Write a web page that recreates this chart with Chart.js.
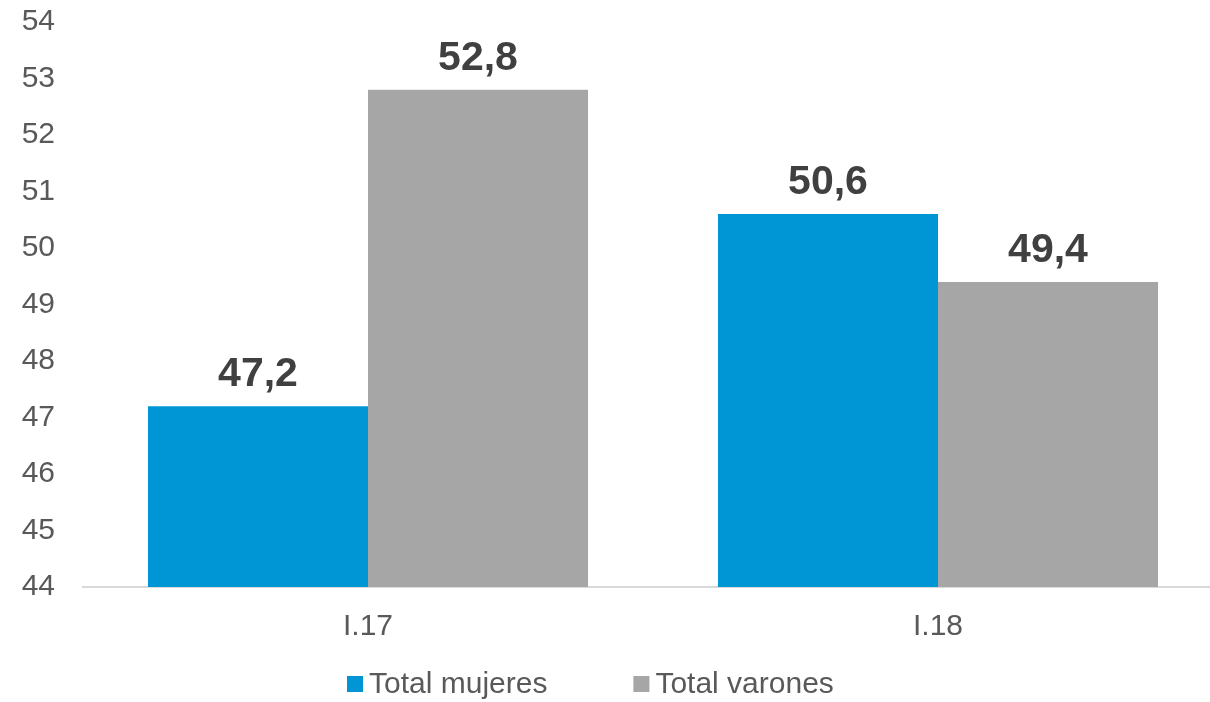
<!DOCTYPE html>
<html>
<head>
<meta charset="utf-8">
<script src="https://cdn.jsdelivr.net/npm/chart.js@4"></script>
<style>
  html, body { margin: 0; padding: 0; background: #fff; }
  #marco { width: 1210px; height: 702px; overflow: hidden; }
  #wrap { width: 1223px; height: 726px; margin-top: -24px; }
</style>
</head>
<body>
<div id="marco"><div id="wrap"><canvas id="grafica"></canvas></div></div>
<script>
// datos
const periodos = ["I.17", "I.18"];
const mujeres = [47.2, 50.6];
const varones = [52.8, 49.4];
const seriesNombres = ["Total mujeres", "Total varones"];
const colores = ["#0096D6", "#A6A6A6"];

const fuente = "Arial, 'Liberation Sans', sans-serif";

// etiquetas de valor encima de cada barra
const etiquetasValor = {
  id: "etiquetasValor",
  afterDatasetsDraw(chart) {
    const ctx = chart.ctx;
    ctx.save();
    ctx.font = "bold 41px " + fuente;
    ctx.fillStyle = "#404040";
    ctx.textAlign = "center";
    ctx.textBaseline = "alphabetic";
    chart.data.datasets.forEach((ds, i) => {
      chart.getDatasetMeta(i).data.forEach((bar, j) => {
        const txt = ds.data[j].toFixed(1).replace(".", ",");
        ctx.fillText(txt, bar.x, bar.y - 20);
      });
    });
    ctx.restore();
  }
};

// leyenda dibujada abajo
const leyenda = {
  id: "leyenda",
  afterDraw(chart) {
    const ctx = chart.ctx;
    ctx.save();
    ctx.font = "30px " + fuente;
    ctx.textBaseline = "middle";
    let x = 347;
    const y = 708;
    chart.data.datasets.forEach((ds) => {
      ctx.fillStyle = ds.backgroundColor;
      ctx.fillRect(x, y - 8, 16, 16);
      ctx.fillStyle = "#595959";
      ctx.fillText(ds.label, x + 22, y + 1);
      x += 22 + ctx.measureText(ds.label).width + 86;
    });
    ctx.restore();
  }
};

const grafica = new Chart("grafica", {
  type: "bar",
  data: {
    labels: periodos,
    datasets: [
      { label: seriesNombres[0], data: mujeres, backgroundColor: colores[0] },
      { label: seriesNombres[1], data: varones, backgroundColor: colores[1] }
    ]
  },
  options: {
    responsive: true,
    maintainAspectRatio: false,
    animation: false,
    layout: { padding: { top: 20, right: 0, bottom: 55, left: 0 } },
    datasets: { bar: { categoryPercentage: 0.772, barPercentage: 1 } },
    plugins: {
      legend: { display: false },
      tooltip: { enabled: false }
    },
    scales: {
      x: {
        grid: { display: false, drawTicks: false },
        border: { display: true, color: "#D9D9D9", width: 2 },
        ticks: { color: "#595959", font: { family: fuente, size: 30 }, padding: 22 },
        afterFit(scale) { scale.height = 60; }
      },
      y: {
        min: 44,
        max: 54,
        grid: { display: false, drawTicks: false },
        border: { display: false },
        ticks: { stepSize: 1, color: "#595959", font: { family: fuente, size: 30 }, padding: 28 },
        afterFit(scale) { scale.width = 83; }
      }
    }
  },
  plugins: [etiquetasValor, leyenda]
});
</script>
</body>
</html>
